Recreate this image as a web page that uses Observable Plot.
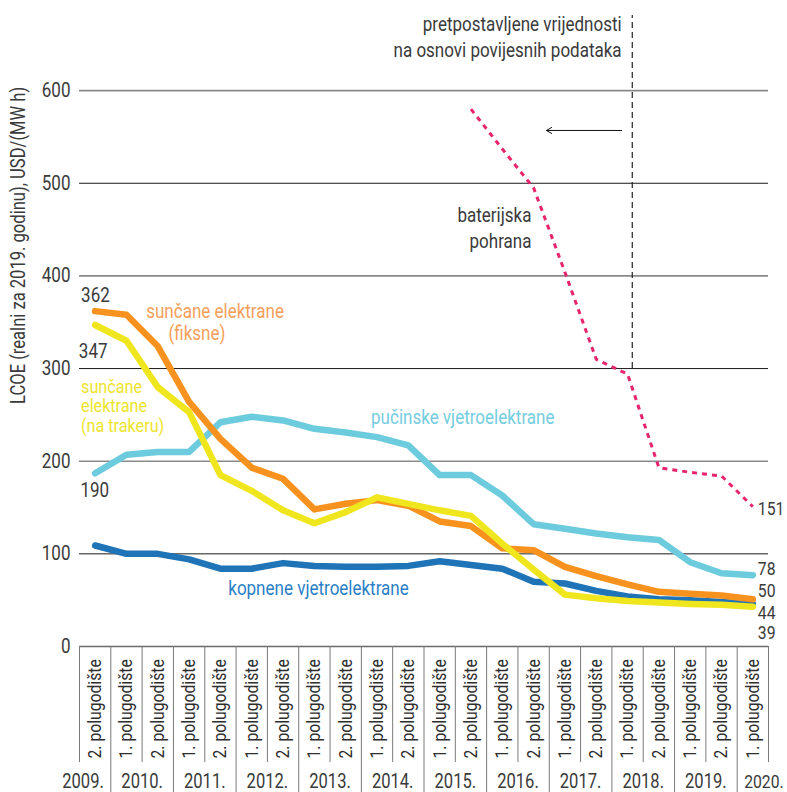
<!DOCTYPE html>
<html><head><meta charset="utf-8">
<script src="https://cdn.jsdelivr.net/npm/d3@7"></script>
<script src="https://cdn.jsdelivr.net/npm/@observablehq/plot@0.6"></script>
<style>
body{margin:0;background:#fff;}
#chart svg{display:block;}
</style></head><body><div id="chart"></div>
<script>
// ---- data ----
const periods = ["2. polugodište","1. polugodište","2. polugodište","1. polugodište","2. polugodište",
  "1. polugodište","2. polugodište","1. polugodište","2. polugodište","1. polugodište","2. polugodište",
  "1. polugodište","2. polugodište","1. polugodište","2. polugodište","1. polugodište","2. polugodište",
  "1. polugodište","2. polugodište","1. polugodište","2. polugodište","1. polugodište"];
const years = ["2009.","2010.","2011.","2012.","2013.","2014.","2015.","2016.","2017.","2018.","2019.","2020."];
const yTicks = [0,100,200,300,400,500,600];

const solarFixed   = [362,358,324,264,224,193,181,148,154,158,152,135,130,106,104,86,76,67,59,57,55,51];
const solarTracker = [347,330,280,253,185,168,147,133,145,161,154,147,141,111,83,56,52,49,47.5,46,45,43];
const windOnshore  = [109,100,100,94,84,84,90,87,86,86,87,92,88,84,70,68,60,54,51,50,48,46];
const windOffshore = [187,207,210,210,242,248,244,235,231,226,217,185,185,163,132,127,122,118,115,91,79,77];
const battery      = [null,null,null,null,null,null,null,null,null,null,null,null,580,537,495,404,310,294,193,188,184,151];

const endLabels = ["151","78","50","44\n39"];

// ---- helpers ----
const idx = d3.range(periods.length);
const toRows = vals => vals.map((v, i) => ({i, v}));
const FONT = 'Roboto,"Liberation Sans",sans-serif';
const GREY = "#3a3a3a";
const boundaries = d3.range(periods.length + 1).map(k => k - 0.5);
const isYearBoundary = b => b > 0 && b < 21 && ((b - 0.5) % 2 === 0);

const chart = Plot.plot({
  width: 787, height: 792,
  marginLeft: 79, marginRight: 19, marginTop: 16, marginBottom: 146,
  x: {domain: [-0.5, 21.5], axis: null},
  y: {domain: [0, 680], axis: null},
  style: {fontFamily: FONT, background: "#fff", overflow: "visible"},
  marks: [
    // gridlines
    Plot.ruleY(yTicks.filter(v => v > 0 && v % 200 === 0), {stroke: "#8a8a8a", strokeWidth: 1.6}),
    Plot.ruleY(yTicks.filter(v => v % 200 === 100), {stroke: "#1a1a1a", strokeWidth: 1}),
    Plot.ruleY([0], {stroke: "#6a6a6a", strokeWidth: 1.3}),
    // y tick labels
    Plot.text(yTicks, {x: -0.5, y: d => d, text: d => String(d), dx: -9, textAnchor: "end", fontSize: 20, fill: GREY}),
    // y axis title
    Plot.text(["LCOE (realni za 2019. godinu), USD/(MW h)"], {x: -0.5, y: 433, dx: -61, rotate: -90, fontSize: 19.5, fill: GREY}),
    // category separators
    Plot.ruleX(boundaries, {x: d => d, y1: 0, y2: d => isYearBoundary(d) ? -158 : -125.2, stroke: "#7a7a7a", strokeWidth: 1}),
    // period labels
    Plot.text(idx, {x: d => d, y: -120.9, text: d => periods[d], rotate: -90, textAnchor: "start", fontSize: 18.5, fill: "#2e2e2e"}),
    // year labels
    Plot.text([years[0]], {x: 0.5, y: -146, dx: -7, text: d => d, textAnchor: "end", fontSize: 19.5, fill: GREY}),
    Plot.text(years.slice(1, 11), {x: (d, k) => 1.5 + 2 * k, y: -146, text: d => d, fontSize: 19.5, fill: GREY}),
    Plot.text([years[11]], {x: 20.5, y: -146, dx: 7, text: d => d, textAnchor: "start", fontSize: 18.5, fill: GREY}),
    // series lines
    Plot.line(toRows(windOnshore), {x: "i", y: "v", stroke: "#1f74b8", strokeWidth: 6.5}),
    Plot.line(toRows(windOffshore), {x: "i", y: "v", stroke: "#6ccbdc", strokeWidth: 6.5}),
    Plot.line(toRows(solarFixed), {x: "i", y: "v", stroke: "#f7921f", strokeWidth: 6.5}),
    Plot.line(toRows(solarTracker), {x: "i", y: "v", stroke: "#f0e61e", strokeWidth: 6.5}),
    Plot.line(toRows(battery), {x: "i", y: "v", stroke: "#e6246e", strokeWidth: 3, strokeDasharray: "5,5", strokeLinecap: "butt"}),
    // forecast divider + arrow
    Plot.ruleX([17.15], {y1: 300, y2: 681, stroke: "#222", strokeWidth: 1.2, strokeDasharray: "6,4"}),
    Plot.arrow([{x1: 16.81, x2: 14.41, y: 557}], {x1: "x1", x2: "x2", y1: "y", y2: "y", stroke: "#111", strokeWidth: 1, headLength: 9}),
    Plot.text(["pretpostavljene vrijednosti\nna osnovi povijesnih podataka"], {x: 16.81, y: 659, text: d => d, textAnchor: "end", lineHeight: 1.3, fontSize: 20, fill: GREY}),
    // series labels
    Plot.text(["baterijska\npohrana"], {x: 13.93, y: 453.4, text: d => d, textAnchor: "end", lineHeight: 1.3, fontSize: 20, fill: GREY}),
    Plot.text(["sunčane elektrane"], {x: 1.63, y: 361.5, text: d => d, textAnchor: "start", fontSize: 20, fill: "#f6a05a"}),
    Plot.text(["(fiksne)"], {x: 2.34, y: 337.8, text: d => d, textAnchor: "start", fontSize: 20, fill: "#f6a05a"}),
    Plot.text(["sunčane\nelektrane\n(na trakeru)"], {x: -0.45, y: 259.6, text: d => d, textAnchor: "start", lineHeight: 1.02, fontSize: 19, fill: "#ece42a"}),
    Plot.text(["pučinske vjetroelektrane"], {x: 8.81, y: 247.4, text: d => d, textAnchor: "start", fontSize: 20, fill: "#74cde0"}),
    Plot.text(["kopnene vjetroelektrane"], {x: 4.25, y: 62.9, text: d => d, textAnchor: "start", fontSize: 20, fill: "#2a7fc6"}),
    // value labels
    Plot.text([String(solarFixed[0])], {x: -0.45, y: 378.8, text: d => d, textAnchor: "start", fontSize: 20, fill: GREY}),
    Plot.text([String(solarTracker[0])], {x: -0.52, y: 318.3, text: d => d, textAnchor: "start", fontSize: 20, fill: GREY}),
    Plot.text(["190"], {x: -0.47, y: 168.3, text: d => d, textAnchor: "start", fontSize: 20, fill: GREY}),
    Plot.text(endLabels, {x: 21.16, y: (d, k) => [148.6, 83.8, 60.4, 26.2][k], text: d => d, textAnchor: "start", lineHeight: 1.1, fontSize: 18.5, fill: GREY})
  ]
});
document.getElementById("chart").append(chart);
// condense all text horizontally (reference uses a condensed typeface)
chart.querySelectorAll("text").forEach(t => {
  const spans = t.querySelectorAll("tspan");
  const targets = spans.length ? Array.from(spans) : [t];
  targets.forEach(el => {
    const n = el.getComputedTextLength();
    if (n > 0) {
      el.setAttribute("textLength", (n * 0.85).toFixed(1));
      el.setAttribute("lengthAdjust", "spacingAndGlyphs");
    }
  });
});
</script>
</body></html>
